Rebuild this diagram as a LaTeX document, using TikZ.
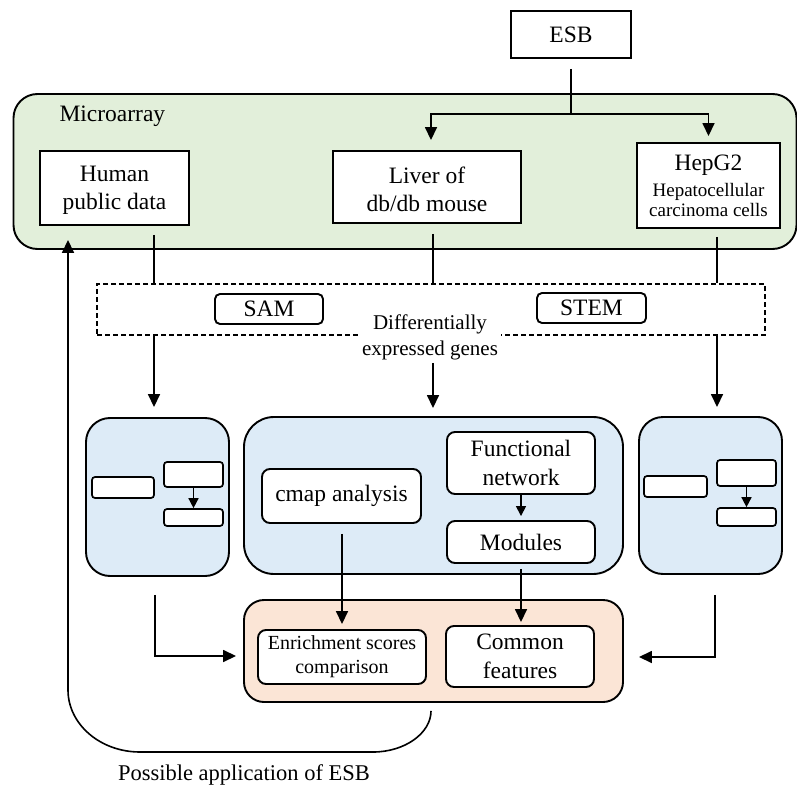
\documentclass[tikz,border=0pt]{standalone}
\usepackage{fontspec}
\setmainfont{Liberation Serif}
\usetikzlibrary{arrows.meta,calc}
\definecolor{gfill}{HTML}{E2EFDA}
\definecolor{bfill}{HTML}{DDEBF7}
\definecolor{pfill}{HTML}{FBE5D6}
\begin{document}
\begin{tikzpicture}[x=1pt,y=-1pt,
 big/.style={font=\fontsize{23.5}{28}\selectfont, align=center},
 box/.style={draw, line width=1.9pt, fill=white, inner sep=0pt, big},
 rbox/.style={box, rounded corners=8pt},
 sbox/.style={draw, line width=1.7pt, fill=white, rounded corners=3pt, inner sep=0pt},
 group/.style={draw, line width=1.9pt, rounded corners=24pt, inner sep=0pt},
 conn/.style={line width=1.6pt},
 arr/.style={conn, -{Triangle[length=13pt,width=12pt]}},
 sarr/.style={conn, -{Triangle[length=10pt,width=10pt]}},
]
\useasboundingbox (0,0) rectangle (797,786);
\fill[white] (0,0) rectangle (797,786);

% Microarray group
\node[group, fill=gfill, minimum width=783pt, minimum height=155pt] (micro) at (405,171.5) {};
\node[big, anchor=west] (mlab) at (56,116) {Microarray};
\node[box, minimum width=120pt, minimum height=47pt] (esb) at (571,34.5) {ESB};
\node[box, minimum width=149pt, minimum height=74pt] (human) at (114.5,188) {\rule{0pt}{21pt}Human\\public data};
\node[box, minimum width=188pt, minimum height=72pt] (liver) at (427,187) {\rule{0pt}{21pt}Liver of\\db/db mouse};
\node[box, minimum width=143pt, minimum height=85pt, font=\fontsize{19}{20}\selectfont] (hep) at (708.5,185.5)
  {{\fontsize{23.5}{24}\selectfont HepG2}\\[6pt]Hepatocellular\\carcinoma cells};

% DEG dashed box
\node[draw, dash pattern=on 5pt off 3pt, line width=1.3pt, minimum width=668pt, minimum height=51pt, inner sep=0pt] (deg) at (431,309.5) {};
\node[box, rounded corners=5pt, minimum width=108pt, minimum height=30pt] (sam) at (269,309) {SAM};
\node[box, rounded corners=5pt, minimum width=109pt, minimum height=30pt] (stem) at (591.5,308) {STEM};
\node[font=\fontsize{21}{26}\selectfont, align=center, fill=white, inner sep=3pt] (degl) at (430,337) {Differentially\\expressed genes};

% blue groups
\node[group, fill=bfill, minimum width=143pt, minimum height=158pt] (lb) at (157.5,497) {};
\node[group, fill=bfill, rounded corners=30pt, minimum width=379pt, minimum height=157pt] (mb) at (433.5,495.5) {};
\node[group, fill=bfill, minimum width=143pt, minimum height=157pt] (rb) at (710.5,495.5) {};

\node[sbox, minimum width=62pt, minimum height=21pt] (l1) at (123,487.5) {};
\node[sbox, minimum width=59pt, minimum height=25pt] (l2) at (193.5,474.5) {};
\node[sbox, minimum width=59pt, minimum height=17pt] (l3) at (193.5,517.5) {};
\node[sbox, minimum width=63pt, minimum height=21pt] (r1) at (675.5,486.5) {};
\node[sbox, minimum width=59pt, minimum height=26pt] (r2) at (746.5,473) {};
\node[sbox, minimum width=59pt, minimum height=18pt] (r3) at (746.5,517) {};

\node[rbox, minimum width=159pt, minimum height=54pt] (cmap) at (341.5,496) {cmap analysis};
\node[rbox, minimum width=148pt, minimum height=62pt, font=\fontsize{23.5}{29}\selectfont] (func) at (521,463) {Functional\\network};
\node[rbox, minimum width=148pt, minimum height=42pt] (mod) at (521,542) {Modules};

% pink group
\node[group, fill=pfill, rounded corners=20pt, minimum width=379pt, minimum height=102pt] (pink) at (433.5,651) {};
\node[rbox, minimum width=168pt, minimum height=54pt, font=\fontsize{20}{24}\selectfont] (enr) at (342,657) {Enrichment scores\\comparison};
\node[rbox, minimum width=148pt, minimum height=61pt, font=\fontsize{23.5}{29}\selectfont] (com) at (520,656.5) {Common\\features};

\node[font=\fontsize{22.5}{26}\selectfont] (pa) at (244,775) {Possible application of ESB};

% connectors
\draw[conn] ($(esb.south)+(0,10)$) -- ($(esb.south)+(0,55)$) coordinate (j);
\draw[arr] (j) -| ($(liver.north)+(4,-10)$);
\draw[arr] (j) -| ($(hep.north)+(0,-6)$);

\coordinate (hx) at ($(human.south)+(39.5,9)$);
\draw[conn] (hx) -- (hx |- deg.north);
\draw[arr, shorten >=10pt] (hx |- deg.south) -- (hx |- lb.north);

\coordinate (lx) at ($(liver.south)+(6,10)$);
\draw[conn] (lx) -- (lx |- deg.north);
\draw[arr, shorten >=8pt] (degl.south -| lx) -- (lx |- mb.north);

\coordinate (hpx) at ($(hep.south)+(8.5,8)$);
\draw[conn] (hpx) -- (hpx |- deg.north);
\draw[arr, shorten >=9pt] (hpx |- deg.south) -- (hpx |- rb.north);

\draw[sarr] (l2) -- (l3);
\draw[sarr] (r2) -- (r3);
\draw[sarr, shorten >=4pt] (func) -- (mod);

\coordinate (cx) at ($(cmap.south)+(0.5,10)$);
\draw[arr, shorten >=5pt] (cx) -- (cx |- enr.north);
\coordinate (mx) at ($(mod.south)+(0,5)$);
\draw[arr, shorten >=3pt] (mx) -- (mx |- com.north);

\coordinate (la) at ($(lb.south)+(-2.5,18)$);
\draw[arr, shorten >=7pt] (la) |- ($(pink.west)+(0,5)$);
\coordinate (ra) at ($(rb.south)+(4.5,20)$);
\draw[arr, shorten >=15pt] (ra) |- ($(pink.east)+(0,6)$);

\coordinate (ls) at ($(pink.south)+(-2.5,8)$);
\coordinate (le) at ($(human.south)+(-46.5,14)$);
\draw[arr] (ls) .. controls (431,733) and (405,752) .. (373,752) -- (140,752)
  .. controls (100,752) and (68,724) .. (68,690) -- (le);
\end{tikzpicture}
\end{document}
